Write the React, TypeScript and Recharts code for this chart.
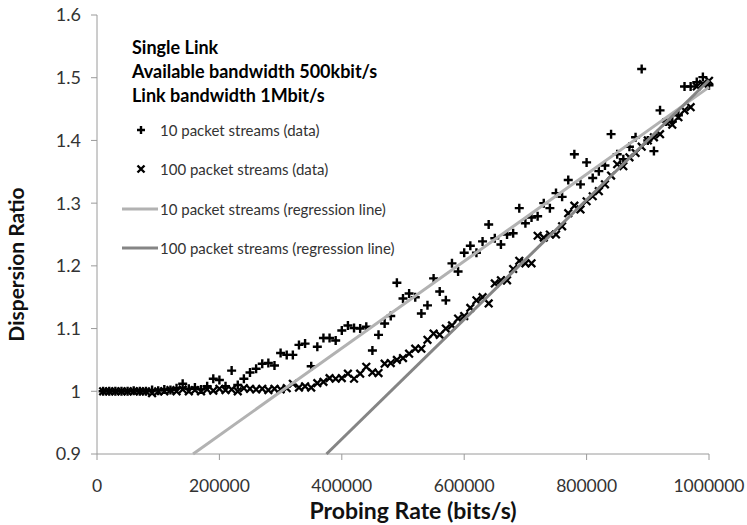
import React from 'react'
import { ScatterChart, Scatter, XAxis, YAxis, Label } from 'recharts'

// probing rates in kbit/s (one stream set per 10 kbit/s step)
const ratesK = [
  10, 20, 30, 40, 50, 60, 70, 80, 90, 100,
  110, 120, 130, 140, 150, 160, 170, 180, 190, 200,
  210, 220, 230, 240, 250, 260, 270, 280, 290, 300,
  310, 320, 330, 340, 350, 360, 370, 380, 390, 400,
  410, 420, 430, 440, 450, 460, 470, 480, 490, 500,
  510, 520, 530, 540, 550, 560, 570, 580, 590, 600,
  610, 620, 630, 640, 650, 660, 670, 680, 690, 700,
  710, 720, 730, 740, 750, 760, 770, 780, 790, 800,
  810, 820, 830, 840, 850, 860, 870, 880, 890, 900,
  910, 920, 930, 940, 950, 960, 970, 980, 990, 1000,
]

const tenPacket = [
  1.0, 1.0, 1.0, 1.0, 1.0, 1.001, 1.0, 1.0, 1.002, 1.001,
  1.003, 1.002, 1.005, 1.012, 1.004, 1.006, 1.003, 1.008, 1.02, 1.018,
  1.008, 1.033, 1.01, 1.02, 1.03, 1.036, 1.044, 1.045, 1.041, 1.061,
  1.058, 1.058, 1.074, 1.076, 1.04, 1.071, 1.085, 1.085, 1.081, 1.097,
  1.105, 1.101, 1.1, 1.103, 1.065, 1.09, 1.108, 1.12, 1.173, 1.148,
  1.156, 1.15, 1.124, 1.137, 1.18, 1.159, 1.145, 1.204, 1.191, 1.221,
  1.232, 1.221, 1.239, 1.266, 1.244, 1.234, 1.25, 1.252, 1.292, 1.268,
  1.277, 1.279, 1.3, 1.292, 1.316, 1.31, 1.337, 1.378, 1.33, 1.365,
  1.34, 1.351, 1.36, 1.41, 1.378, 1.37, 1.39, 1.405, 1.514, 1.4,
  1.383, 1.448, 1.43, 1.43, 1.44, 1.486, 1.486, 1.493, 1.501, 1.488,
]

const hundredPacket = [
  1.0, 1.0, 1.0, 1.0, 1.0, 1.0, 1.0, 1.0, 0.997, 1.0,
  1.0, 1.002, 1.0, 1.003, 1.0, 1.002, 1.0, 1.003, 1.001, 1.004,
  1.002, 1.003, 1.0, 1.005, 1.004, 1.003, 1.004, 1.002, 1.004, 1.003,
  1.005, 1.012, 1.006, 1.008, 1.006, 1.013, 1.015, 1.021, 1.02, 1.021,
  1.028, 1.02, 1.028, 1.039, 1.03, 1.029, 1.044, 1.045, 1.05, 1.053,
  1.06, 1.068, 1.068, 1.082, 1.092, 1.09, 1.1, 1.105, 1.116, 1.12,
  1.133, 1.145, 1.15, 1.14, 1.172, 1.177, 1.177, 1.195, 1.208, 1.204,
  1.204, 1.248, 1.245, 1.25, 1.25, 1.263, 1.284, 1.296, 1.29, 1.303,
  1.311, 1.319, 1.33, 1.344, 1.362, 1.359, 1.373, 1.38, 1.39, 1.4,
  1.405, 1.41, 1.429, 1.425, 1.437, 1.448, 1.453, 1.486, 1.49, 1.495,
]

// regression lines, drawn between the ends that are visible in the plot
const tenRegression = [
  { x: 157000, y: 0.9 },
  { x: 1000000, y: 1.485 },
]
const hundredRegression = [
  { x: 375000, y: 0.9 },
  { x: 1000000, y: 1.496 },
]

const xTicks = [0, 200000, 400000, 600000, 800000, 1000000]
const yTicks = [0.9, 1, 1.1, 1.2, 1.3, 1.4, 1.5, 1.6]

const titleLines = ['Single Link', 'Available bandwidth 500kbit/s', 'Link bandwidth 1Mbit/s']
const legendItems = [
  { label: '10 packet streams (data)', kind: 'plus' },
  { label: '100 packet streams (data)', kind: 'cross' },
  { label: '10 packet streams (regression line)', kind: 'light' },
  { label: '100 packet streams (regression line)', kind: 'dark' },
]

const FONT = 'Lato, "Open Sans", sans-serif'
const LIGHT = '#b2b2b2'
const DARK = '#858585'

const tenData = ratesK.map((r, i) => ({ x: r * 1000, y: tenPacket[i] }))
const hundredData = ratesK.map((r, i) => ({ x: r * 1000, y: hundredPacket[i] }))

const Plus = (props: any) => {
  const { cx, cy } = props
  return <path d={`M${cx - 4.5},${cy}H${cx + 4.5}M${cx},${cy - 4.5}V${cy + 4.5}`} stroke="#000" strokeWidth={2.4} fill="none" />
}

const Cross = (props: any) => {
  const { cx, cy } = props
  return (
    <path
      d={`M${cx - 3.8},${cy - 3.8}L${cx + 3.8},${cy + 3.8}M${cx + 3.8},${cy - 3.8}L${cx - 3.8},${cy + 3.8}`}
      stroke="#000" strokeWidth={2.3} fill="none"
    />
  )
}

const NoDot = () => <g />

function LegendIcon({ kind }: { kind: string }) {
  if (kind === 'plus') {
    return <svg width={38} height={12}><path d="M15,6H23M19,2V10" stroke="#000" strokeWidth={2.4} /></svg>
  }
  if (kind === 'cross') {
    return <svg width={38} height={12}><path d="M15.5,2.5L22.5,9.5M22.5,2.5L15.5,9.5" stroke="#000" strokeWidth={2.4} /></svg>
  }
  return (
    <svg width={38} height={12}>
      <line x1={0} y1={6} x2={36} y2={6} stroke={kind === 'light' ? LIGHT : DARK} strokeWidth={3} />
    </svg>
  )
}

export default function App() {
  return (
    <div style={{ position: 'absolute', left: 0, top: 0, width: 747, height: 525, background: '#fff', fontFamily: FONT }}>
      <ScatterChart width={747} height={525} margin={{ top: 15, right: 38, bottom: 0, left: 0 }}>
        <XAxis
          type="number" dataKey="x" domain={[0, 1000000]} ticks={xTicks} height={71}
          stroke="#9a9a9a" tickSize={6} tickMargin={20}
          tick={{ fill: '#333', fontSize: 17.5, fontFamily: FONT }}
        >
          <Label
            content={(p: any) => {
              const vb = p.viewBox
              return (
                <text x={vb.x + vb.width / 2 + 10} y={519} textAnchor="middle"
                  style={{ fontFamily: FONT, fontWeight: 700, fontSize: 23, fill: '#111' }}>
                  Probing Rate (bits/s)
                </text>
              )
            }}
          />
        </XAxis>
        <YAxis
          type="number" dataKey="y" domain={[0.9, 1.6]} ticks={yTicks} width={97}
          stroke="#9a9a9a" tickSize={6} tickMargin={10}
          tick={{ fill: '#333', fontSize: 18, fontFamily: FONT }}
        >
          <Label
            content={(p: any) => {
              const vb = p.viewBox
              const cy = vb.y + vb.height / 2 + 30
              return (
                <text x={24} y={cy} textAnchor="middle" transform={`rotate(-90, 24, ${cy})`}
                  style={{ fontFamily: FONT, fontWeight: 700, fontSize: 21, fill: '#111' }}>
                  Dispersion Ratio
                </text>
              )
            }}
          />
        </YAxis>
        <Scatter data={tenData} shape={Plus} isAnimationActive={false} />
        <Scatter data={hundredData} shape={Cross} isAnimationActive={false} />
        <Scatter data={tenRegression} shape={NoDot} line={{ stroke: LIGHT, strokeWidth: 3 }} isAnimationActive={false} />
        <Scatter data={hundredRegression} shape={NoDot} line={{ stroke: DARK, strokeWidth: 3 }} isAnimationActive={false} />
      </ScatterChart>

      {/* legend box drawn inside the plot, top left */}
      <div style={{ position: 'absolute', left: 132, top: 35, color: '#000' }}>
        {titleLines.map(t => (
          <div key={t} style={{ fontWeight: 700, fontSize: 18, lineHeight: '24px' }}>{t}</div>
        ))}
      </div>
      <div style={{ position: 'absolute', left: 122, top: 110 }}>
        {legendItems.map(item => (
          <div key={item.label} style={{ display: 'flex', alignItems: 'center', height: 39.5 }}>
            <LegendIcon kind={item.kind} />
            <span style={{ fontSize: 15, color: '#333' }}>{item.label}</span>
          </div>
        ))}
      </div>
    </div>
  )
}
